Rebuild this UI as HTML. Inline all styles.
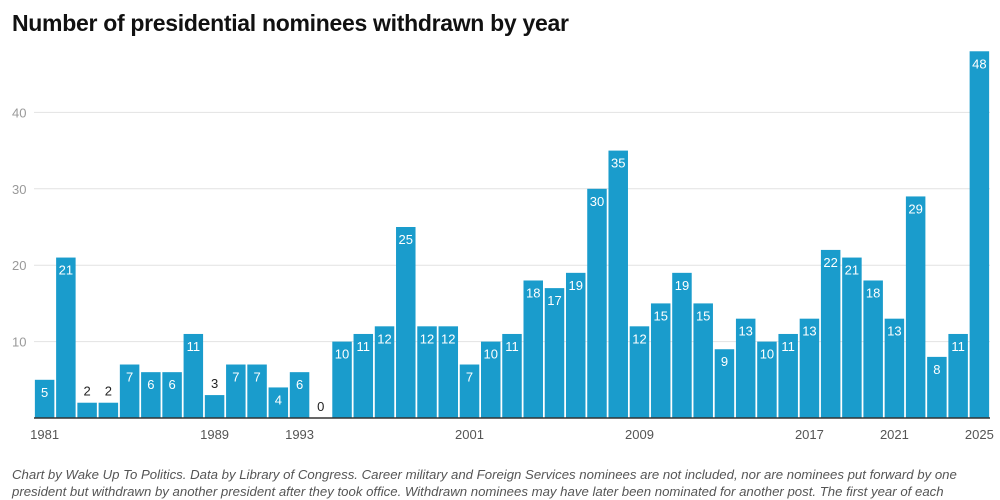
<!DOCTYPE html>
<html><head><meta charset="utf-8"><style>
body{margin:0;background:#fff;width:1000px;height:500px;overflow:hidden;font-family:"Liberation Sans",sans-serif}
#title{position:absolute;left:12px;top:10px;font-size:23px;font-weight:bold;color:#111;letter-spacing:-0.3px}
#foot{position:absolute;left:12px;top:467px;width:985px;font-size:13.2px;font-style:italic;color:#555;line-height:16.5px}
svg{position:absolute;left:0;top:0}
</style></head><body>
<div id="title">Number of presidential nominees withdrawn by year</div>
<svg id="chart" width="1000" height="500"></svg>
<div id="foot">Chart by Wake Up To Politics. Data by Library of Congress. Career military and Foreign Services nominees are not included, nor are nominees put forward by one president but withdrawn by another president after they took office. Withdrawn nominees may have later been nominated for another post. The first year of each</div>
<script>
const years=[];for(let y=1981;y<=2025;y++)years.push(y);
const values=[5,21,2,2,7,6,6,11,3,7,7,4,6,0,10,11,12,25,12,12,7,10,11,18,17,19,30,35,12,15,19,15,9,13,10,11,13,22,21,18,13,29,8,11,48];
const yTicks=[10,20,30,40];
const xTickLabels=[1981,1989,1993,2001,2009,2017,2021,2025];
const svg=document.getElementById('chart');const NS='http://www.w3.org/2000/svg';
const left=34,right=990,base=418,step=(right-left)/years.length,bw=19.5;
const yS=v=>base-v*7.64;
const xS=i=>left+i*step;
function mk(t,a){const e=document.createElementNS(NS,t);for(const k in a)e.setAttribute(k,a[k]);svg.appendChild(e);return e;}
yTicks.forEach(t=>{
 const g=mk('line',{x1:34,x2:990,y1:yS(t),y2:yS(t),stroke:'#e2e2e2','stroke-width':1});
 
 
 const l=mk('text',{x:12,y:yS(t)+5,'font-size':13,fill:'#999'});l.textContent=t;
 
 
});
values.forEach((v,i)=>{
 const x=xS(i)+(step-bw)/2;
 const r=mk('rect',{x:x,y:yS(v),width:bw,height:base-yS(v),fill:'#1a9ccc'});
 
 
 const inside=v>=4;
 const t=mk('text',{x:x+bw/2,y:inside?yS(v)+17:yS(v)-7,'font-size':13,'text-anchor':'middle',fill:inside?'#fff':'#222'});
 t.textContent=v;
 
 
});
const ax=mk('line',{x1:34,x2:990,y1:base,y2:base,stroke:'#333','stroke-width':1.5});


xTickLabels.forEach(y=>{
 const i=years.indexOf(y);
 const t=mk('text',{x:xS(i)+step/2,y:439,'font-size':13,'text-anchor':'middle',fill:'#555'});
 t.textContent=y;
 
 
});
</script>
</body></html>
